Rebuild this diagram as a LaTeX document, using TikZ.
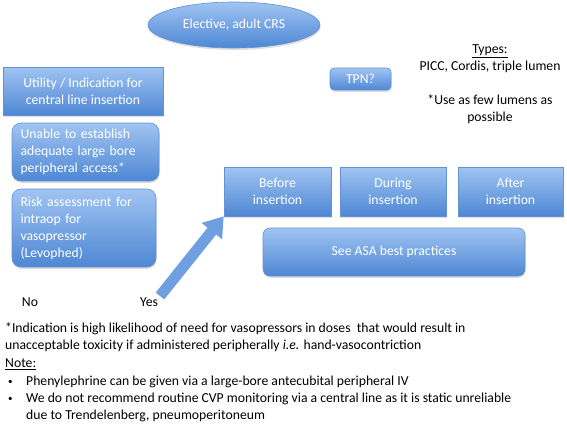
\documentclass[tikz,border=0pt]{standalone}
\usepackage{fontspec}
\setmainfont{Carlito}
\usetikzlibrary{shapes.geometric,shadows,arrows.meta}
\definecolor{boxtop}{RGB}{160,196,242}
\definecolor{boxbot}{RGB}{78,135,212}
\definecolor{boxline}{RGB}{100,145,210}
\definecolor{arrowblue}{RGB}{110,160,225}
\tikzset{
  x=1pt, y=-1pt,
  base/.style={top color=boxtop, bottom color=boxbot, draw=boxline, line width=0.6pt,
    text=white, font=\fontsize{13.7}{17}\selectfont, inner sep=0pt,
    drop shadow={opacity=0.25, shadow xshift=0.5pt, shadow yshift=-2pt}},
  sqbox/.style={base, rectangle, align=center},
  rbox/.style={base, rectangle, rounded corners=7pt, align=center},
  lbox/.style={base, rectangle, rounded corners=9pt, align=left},
  txt/.style={font=\fontsize{13.7}{17}\selectfont, inner sep=0pt},
}
\begin{document}
\begin{tikzpicture}
\useasboundingbox (0,0) rectangle (567,423);
\node[base, ellipse, minimum width=172pt, minimum height=46pt] (ell) at (234,25) {Elective, adult CRS};
\node[sqbox, minimum width=160pt, minimum height=48pt] (util) at (83,91) {Utility / Indication for\\central line insertion};
\node[lbox, minimum width=147pt, minimum height=58pt, text width=130pt] (unable) at (85.5,152) {Unable to establish\\adequate large bore\\peripheral access*};
\node[lbox, minimum width=144pt, minimum height=78pt, text width=127pt] (risk) at (84,228) {Risk assessment for\\intraop for\\vasopressor\\(Levophed)};
\node[sqbox, minimum width=107pt, minimum height=49pt] (before) at (277.5,191.5) {Before\\insertion};
\node[sqbox, minimum width=106pt, minimum height=49pt] (during) at (393,191.5) {During\\insertion};
\node[sqbox, minimum width=105pt, minimum height=49pt] (after) at (510.5,191.5) {After\\insertion};
\node[rbox, minimum width=262pt, minimum height=48pt] (asa) at (394,252) {See ASA best practices};
\node[rbox, rounded corners=4pt, minimum width=61pt, minimum height=22pt] (tpn) at (360.5,79) {TPN?};
\node[txt, align=center] (types) at (490,84) {\underline{Types:}\\PICC, Cordis, triple lumen\\[17pt]*Use as few lumens as\\possible};
\node[txt] (no) at (30,302) {No};
\node[txt] (yes) at (149,302) {Yes};
\draw[arrowblue, line width=11pt, -{Triangle[length=19pt,width=25pt]}] (160,296) -- (before.south west);
\node[txt, anchor=base west] (f1) at (5,332.5) {*Indication is high likelihood of need for vasopressors in doses\ \ that would result in};
\node[txt, anchor=base west] (f2) at (5,349.5) {unacceptable toxicity if administered peripherally \textit{i.e.} hand-vasocontriction};
\node[txt, anchor=base west] (f3) at (5,367.5) {\underline{Note:}};
\node[txt, anchor=base west, font=\fontsize{9}{17}\selectfont] (b1) at (8,384.5) {•};
\node[txt, anchor=base west] (f4) at (26,385.5) {Phenylephrine can be given via a large-bore antecubital peripheral IV};
\node[txt, anchor=base west, font=\fontsize{9}{17}\selectfont] (b2) at (8,401.5) {•};
\node[txt, anchor=base west] (f5) at (26,402.5) {We do not recommend routine CVP monitoring via a central line as it is static unreliable};
\node[txt, anchor=base west] (f6) at (26,419.5) {due to Trendelenberg, pneumoperitoneum};
\end{tikzpicture}
\end{document}
